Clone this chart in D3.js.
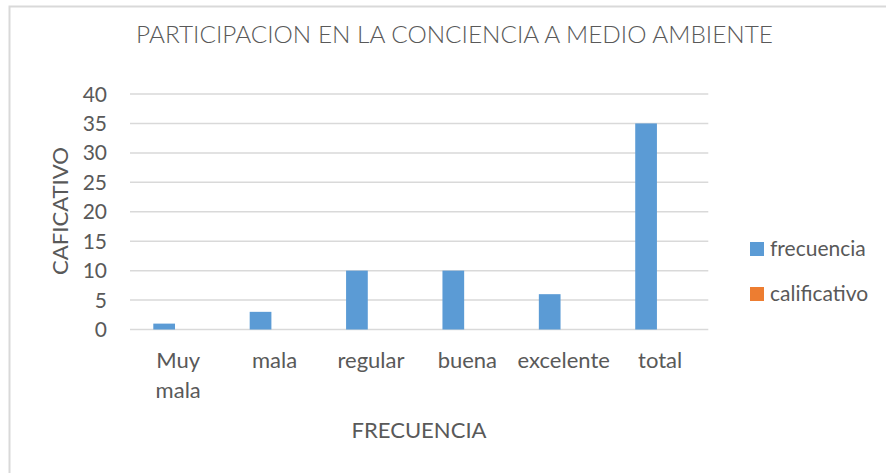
<!DOCTYPE html>
<html>
<head>
<meta charset="utf-8">
<script src="https://cdn.jsdelivr.net/npm/d3@7"></script>
<style>
  html, body { margin: 0; padding: 0; background: #fff; }
  svg text { font-family: Lato, "Open Sans", sans-serif; fill: #595959; }
</style>
</head>
<body>
<svg id="chart" width="886" height="473"></svg>
<script>
// Categories (x axis) and the two series
const categories = [["Muy", "mala"], ["mala"], ["regular"], ["buena"], ["excelente"], ["total"]];
const categoryKeys = ["Muy mala", "mala", "regular", "buena", "excelente", "total"];
const seriesNames = ["frecuencia", "calificativo"];
const frecuencia = [1, 3, 10, 10, 6, 35];
const calificativo = [0, 0, 0, 0, 0, 0];
const yTicks = [0, 5, 10, 15, 20, 25, 30, 35, 40];
const colors = ["#5B9BD5", "#ED7D31"];

const titleText = "PARTICIPACION EN LA CONCIENCIA A MEDIO AMBIENTE";
const xTitle = "FRECUENCIA";
const yTitle = "CAFICATIVO";

const svg = d3.select("#chart");

// chart area frame
svg.append("rect")
  .attr("x", 9.5).attr("y", 6.5)
  .attr("width", 900).attr("height", 500)
  .attr("fill", "none").attr("stroke", "#d9d9d9").attr("stroke-width", 2);

const plot = { left: 130, right: 708.3, top: 94, bottom: 329.5 };

const x = d3.scaleBand().domain(categoryKeys).range([plot.left, plot.right]).padding(0);
const xs = d3.scaleBand().domain(seriesNames).range([0, x.bandwidth()])
  .paddingInner(0).paddingOuter(1.22).align(0.44);
const y = d3.scaleLinear().domain([0, 40]).range([plot.bottom, plot.top]);

// horizontal gridlines
svg.append("g").selectAll("line").data(yTicks).join("line")
  .attr("x1", plot.left).attr("x2", plot.right)
  .attr("y1", d => y(d)).attr("y2", d => y(d))
  .attr("stroke", "#d9d9d9").attr("stroke-width", 1.5);

// y tick labels
svg.append("g").selectAll("text").data(yTicks).join("text")
  .attr("x", 107).attr("y", d => y(d))
  .attr("dy", "0.36em")
  .attr("text-anchor", "end")
  .style("font-size", "21px")
  .text(d => d);

// bars
const seriesData = [frecuencia, calificativo];
seriesNames.forEach((s, si) => {
  svg.append("g").selectAll("rect").data(seriesData[si]).join("rect")
    .attr("x", (d, i) => x(categoryKeys[i]) + xs(s))
    .attr("width", xs.bandwidth())
    .attr("y", d => y(d))
    .attr("height", d => y(0) - y(d))
    .attr("fill", colors[si]);
});

// x category labels (wrapped)
const xl = svg.append("g").selectAll("text").data(categories).join("text")
  .attr("text-anchor", "middle")
  .style("font-size", "22px")
  .attr("transform", (d, i) => `translate(${x(categoryKeys[i]) + x.bandwidth() / 2},368)`);
xl.selectAll("tspan").data(d => d).join("tspan")
  .attr("x", 0).attr("dy", (d, i) => i === 0 ? 0 : 30)
  .text(d => d);

// title
svg.append("text")
  .attr("x", 454.5).attr("y", 43)
  .attr("text-anchor", "middle")
  .attr("textLength", 637).attr("lengthAdjust", "spacingAndGlyphs")
  .style("font-size", "23px").style("font-weight", 300)
  .text(titleText);

// axis titles
svg.append("text")
  .attr("x", 419).attr("y", 438)
  .attr("text-anchor", "middle")
  .attr("textLength", 135).attr("lengthAdjust", "spacingAndGlyphs")
  .style("font-size", "22px")
  .text(xTitle);

svg.append("text")
  .attr("transform", "translate(68,211) rotate(-90)")
  .attr("text-anchor", "middle")
  .attr("textLength", 128).attr("lengthAdjust", "spacingAndGlyphs")
  .style("font-size", "22px")
  .text(yTitle);

// legend
const legend = svg.append("g").selectAll("g").data(seriesNames).join("g")
  .attr("transform", (d, i) => `translate(750,${242 + i * 45})`);
legend.append("rect").attr("width", 14).attr("height", 14).attr("fill", (d, i) => colors[i]);
legend.append("text").attr("x", 20).attr("y", 14)
  .style("font-size", "21px")
  .text(d => d);
</script>
</body>
</html>
